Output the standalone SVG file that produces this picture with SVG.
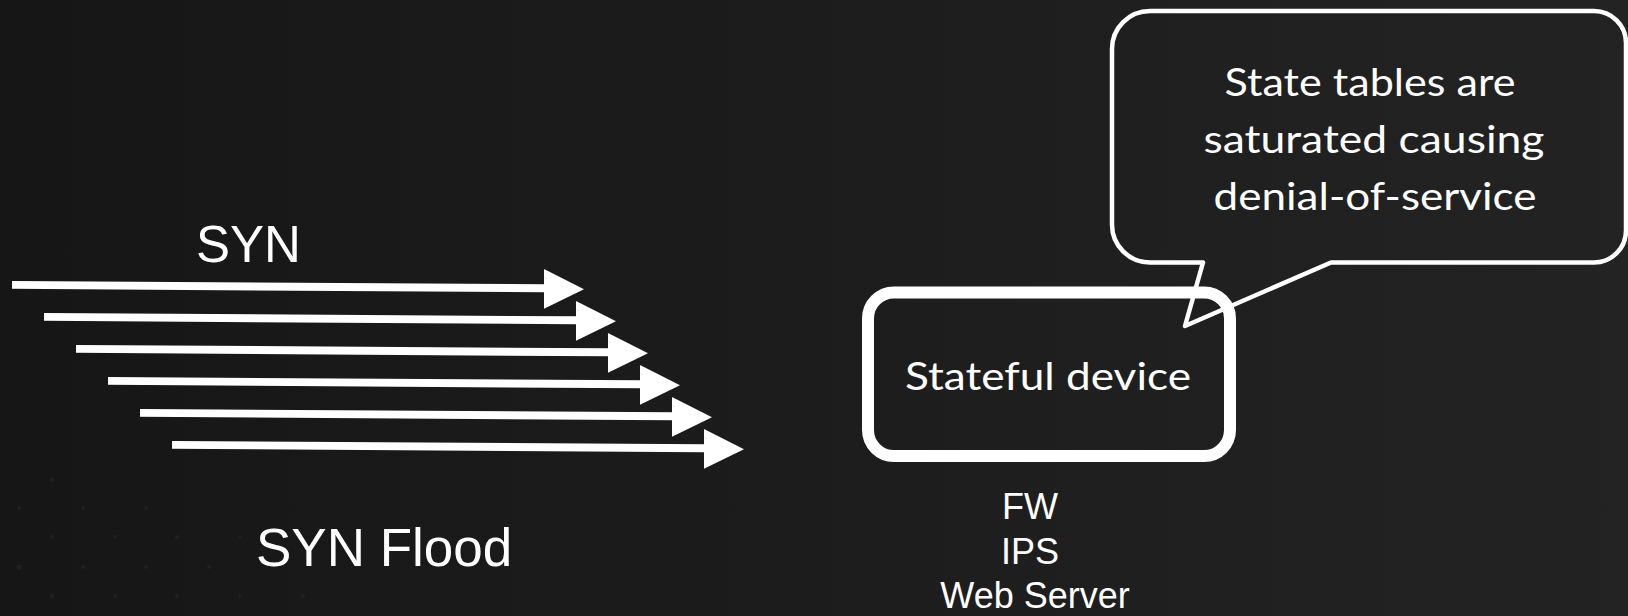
<svg xmlns="http://www.w3.org/2000/svg" width="1628" height="616" viewBox="0 0 1628 616">
  <defs>
    <linearGradient id="bg" x1="0" y1="0" x2="1" y2="0">
      <stop offset="0" stop-color="#161616"/>
      <stop offset="1" stop-color="#232323"/>
    </linearGradient>
    <!-- one flood arrow, drawn at the origin row and shifted per copy -->
    <polygon id="synArrow" points="12,281 544,284.3 544,269 584,289.2 544,308.7 544,292.3 12,288.8"/>
  </defs>
  <style>
    .arrow { fill: #ffffff; }
    .sans { font-family: "Liberation Sans", Arial, sans-serif; fill: #ffffff; }
    .hum { font-family: Lato, "Open Sans", sans-serif; fill: #ffffff; }
    .outline { fill: none; stroke: #ffffff; stroke-linejoin: round; }
    .dot { fill: #202020; }
  </style>

  <!-- backdrop -->
  <rect width="1628" height="616" fill="url(#bg)"/>
  <g id="dots">
    <circle class="dot" cx="52" cy="480" r="2"/>
    <circle class="dot" cx="19" cy="508" r="2"/>
    <circle class="dot" cx="83" cy="508" r="2"/>
    <circle class="dot" cx="146" cy="508" r="2"/>
    <circle class="dot" cx="52" cy="537" r="2"/>
    <circle class="dot" cx="115" cy="537" r="2"/>
    <circle class="dot" cx="177" cy="537" r="2"/>
    <circle class="dot" cx="240" cy="537" r="2"/>
    <circle class="dot" cx="19" cy="567" r="2.5"/>
    <circle class="dot" cx="83" cy="567" r="2"/>
    <circle class="dot" cx="146" cy="567" r="2"/>
    <circle class="dot" cx="209" cy="567" r="2"/>
    <circle class="dot" cx="52" cy="596" r="2.5"/>
    <circle class="dot" cx="115" cy="596" r="2"/>
    <circle class="dot" cx="177" cy="596" r="2"/>
    <circle class="dot" cx="240" cy="596" r="2"/>
    <circle class="dot" cx="303" cy="596" r="2"/>
  </g>

  <!-- SYN flood arrows -->
  <g id="connectors" class="arrow">
    <use href="#synArrow"/>
    <use href="#synArrow" transform="translate(32,32)"/>
    <use href="#synArrow" transform="translate(64,64)"/>
    <use href="#synArrow" transform="translate(96,96)"/>
    <use href="#synArrow" transform="translate(128,128)"/>
    <use href="#synArrow" transform="translate(160,160)"/>
  </g>

  <g id="syn-label">
    <text class="sans" x="196" y="262" font-size="51">SYN</text>
  </g>

  <g id="flood-label">
    <text class="sans" x="256" y="566" font-size="53">SYN Flood</text>
  </g>

  <!-- speech bubble -->
  <g id="callout">
    <path class="outline" stroke-width="4.5"
          d="M1150 11 H1594 A32 32 0 0 1 1626 43 V230.5 A32 32 0 0 1 1594 262.5 H1331 L1185 326 L1203 262.5 H1150 A38 38 0 0 1 1112 224.5 V49 A38 38 0 0 1 1150 11 Z"/>
    <text class="hum" font-size="39.5" text-anchor="middle">
      <tspan x="1370" y="96" textLength="291" lengthAdjust="spacingAndGlyphs">State tables are</tspan>
    </text>
    <text class="hum" font-size="39.5" text-anchor="middle">
      <tspan x="1374" y="153" textLength="341" lengthAdjust="spacingAndGlyphs">saturated causing</tspan>
    </text>
    <text class="hum" font-size="39.5" text-anchor="middle">
      <tspan x="1375" y="210" textLength="323" lengthAdjust="spacingAndGlyphs">denial-of-service</tspan>
    </text>
  </g>

  <!-- stateful device -->
  <g id="stateful-device">
    <rect class="outline" x="868" y="292.5" width="362" height="163.5" rx="26" stroke-width="12"/>
    <text class="hum" x="1048" y="390" font-size="39.5" text-anchor="middle" textLength="286" lengthAdjust="spacingAndGlyphs">Stateful device</text>
  </g>

  <g id="device-types">
    <text class="sans" font-size="36" text-anchor="middle">
      <tspan x="1035" y="519">FW</tspan>
      <tspan x="1035" y="563.5">IPS</tspan>
      <tspan x="1035" y="608">Web Server</tspan>
    </text>
  </g>
</svg>
